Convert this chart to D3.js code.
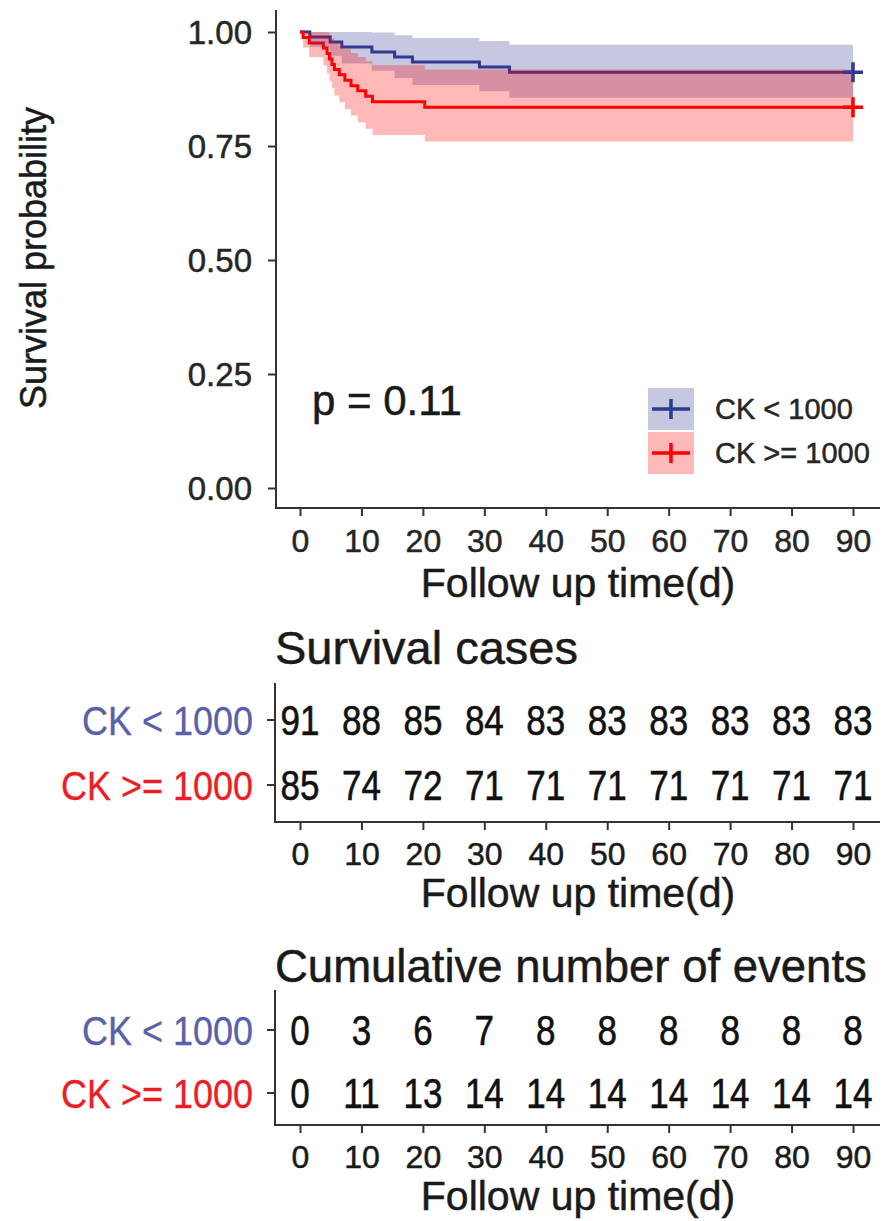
<!DOCTYPE html>
<html>
<head>
<meta charset="utf-8">
<script src="https://cdn.jsdelivr.net/npm/d3@7"></script>
<style>
  body { margin: 0; background: #fff; }
  text { font-family: "Liberation Sans", Arial, sans-serif; }
</style>
</head>
<body>
<div id="chart"></div>
<script>
var timeTicks = [0, 10, 20, 30, 40, 50, 60, 70, 80, 90],
	survTicks = [0, 0.25, 0.5, 0.75, 1],
	groups = ["CK < 1000", "CK >= 1000"],
	groupColors = ["#2E3A8F", "#FF0000"],
	labelColors = ["#5A61AA", "#EE1C25"];

// Kaplan-Meier steps
var lowTimes = [0, 1.6, 4.9, 6.8, 11.7, 15.4, 18.3, 29.2, 34.1, 90],
	lowSurv = [1, 0.989, 0.978, 0.967, 0.956, 0.945, 0.934, 0.923, 0.912, 0.912],
	lowUpper = [1, 1, 1, 1, 0.999, 0.993, 0.987, 0.980, 0.972, 0.972],
	lowLower = [1, 0.967, 0.948, 0.931, 0.915, 0.899, 0.884, 0.870, 0.856, 0.856];

var highTimes = [0, 0.5, 1.5, 3.8, 4.4, 4.8, 5.2, 5.6, 6.4, 7.3, 8.3, 9.4, 10.7, 11.8, 20.3, 90],
	highSurv = [1, 0.988, 0.976, 0.965, 0.953, 0.941, 0.929, 0.918, 0.906, 0.894, 0.882, 0.871, 0.859, 0.847, 0.835, 0.835],
	highUpper = [1, 1, 1, 1, 0.999, 0.993, 0.986, 0.978, 0.970, 0.962, 0.954, 0.945, 0.936, 0.927, 0.918, 0.918],
	highLower = [1, 0.966, 0.945, 0.926, 0.909, 0.892, 0.877, 0.861, 0.846, 0.831, 0.817, 0.802, 0.788, 0.774, 0.760, 0.760];

var atRiskLow = [91, 88, 85, 84, 83, 83, 83, 83, 83, 83],
	atRiskHigh = [85, 74, 72, 71, 71, 71, 71, 71, 71, 71],
	eventsLow = [0, 3, 6, 7, 8, 8, 8, 8, 8, 8],
	eventsHigh = [0, 11, 13, 14, 14, 14, 14, 14, 14, 14];

var pText = "p = 0.11";

(function() {
	"use strict";

	var width = 882,
		height = 1221,
		axisColor = "#333333",
		textColor = "#1a1a1a",
		x = d3.scaleLinear().domain([0, 90]).range([300, 853]),
		y = d3.scaleLinear().domain([0, 1]).range([488, 32]),
		panelLeft = 275,
		panelRight = 880;

	var svg = d3.select("#chart")
		.append("svg")
		.attr("width", width)
		.attr("height", height);

	// a touch of stroke so the text reads as heavy as the scanned figure
	function heavy(sel, color) {
		return sel.attr("fill", color)
			.attr("stroke", color)
			.attr("stroke-width", 0.5);
	}

	function series(times, surv, upper, lower) {
		return times.map(function(t, i) {
			return { t: t, s: surv[i], hi: upper[i], lo: lower[i] };
		});
	}

	var curves = [
		series(lowTimes, lowSurv, lowUpper, lowLower),
		series(highTimes, highSurv, highUpper, highLower)
	];

	var line = d3.line()
		.curve(d3.curveStepAfter)
		.x(function(d) { return x(d.t); })
		.y(function(d) { return y(d.s); });

	var band = d3.area()
		.curve(d3.curveStepAfter)
		.x(function(d) { return x(d.t); })
		.y0(function(d) { return y(d.lo); })
		.y1(function(d) { return y(d.hi); });

	// survival curves, then ribbons on top (as ggsurvplot does)
	var plot = svg.append("g");

	curves.forEach(function(c, i) {
		plot.append("path")
			.attr("d", line(c))
			.attr("fill", "none")
			.attr("stroke", groupColors[i])
			.attr("stroke-width", 3);
	});

	curves.forEach(function(c, i) {
		plot.append("path")
			.attr("d", band(c))
			.attr("fill", groupColors[i])
			.attr("fill-opacity", 0.28)
			.attr("stroke", "none");
	});

	// censor marks at the end of follow up
	curves.forEach(function(c, i) {
		var last = c[c.length - 1];
		plot.append("path")
			.attr("transform", "translate(" + x(last.t) + "," + y(last.s) + ")")
			.attr("d", "M-10,0H10M0,-10V10")
			.attr("stroke", groupColors[i])
			.attr("stroke-width", 3.5);
	});

	// axes of the survival plot
	var yAxis = svg.append("g")
		.attr("transform", "translate(" + (panelLeft + 1) + ",0)")
		.call(d3.axisLeft(y).tickValues(survTicks).tickFormat(d3.format(".2f")).tickSizeOuter(0).tickSize(8).tickPadding(16));

	var xAxis = svg.append("g")
		.attr("transform", "translate(0,508)")
		.call(d3.axisBottom(x).tickValues(timeTicks).tickSizeOuter(0).tickSize(8).tickPadding(13));

	[yAxis, xAxis].forEach(function(a) {
		a.select(".domain").remove();
		a.selectAll(".tick line").attr("stroke", axisColor).attr("stroke-width", 2);
		heavy(a.selectAll(".tick text"), "#262626")
			.style("font-size", "33px");
	});
	yAxis.selectAll(".tick text").attr("dy", "0.36em");
	xAxis.selectAll(".tick text")
		.attr("dy", "0.71em")
		.style("font-size", "32px");

	svg.append("path")
		.attr("d", "M" + (panelLeft + 1) + ",10V508H" + panelRight)
		.attr("fill", "none")
		.attr("stroke", axisColor)
		.attr("stroke-width", 2);

	heavy(svg.append("text"), textColor)
		.attr("transform", "translate(46,258) rotate(-90)")
		.attr("text-anchor", "middle")
		.style("font-size", "36px")
		.text("Survival probability");

	heavy(svg.append("text"), textColor)
		.attr("x", 578)
		.attr("y", 597)
		.attr("text-anchor", "middle")
		.style("font-size", "41px")
		.text("Follow up time(d)");

	heavy(svg.append("text"), textColor)
		.attr("x", 312)
		.attr("y", 415)
		.style("font-size", "42px")
		.text(pText);

	// legend
	var legend = svg.append("g");
	groups.forEach(function(g, i) {
		var ky = 388 + i * 44;
		legend.append("rect")
			.attr("x", 648)
			.attr("y", ky)
			.attr("width", 46)
			.attr("height", 42)
			.attr("fill", groupColors[i])
			.attr("fill-opacity", 0.28);
		legend.append("path")
			.attr("d", "M652," + (ky + 21) + "H690M671," + (ky + 11) + "V" + (ky + 31))
			.attr("stroke", groupColors[i])
			.attr("stroke-width", 3.5);
		heavy(legend.append("text"), "#262626")
			.attr("x", 715)
			.attr("y", ky + 21)
			.attr("dy", "0.36em")
			.style("font-size", "29px")
			.text(g);
	});

	// risk tables
	function table(opt, rows) {
		var g = svg.append("g");

		heavy(g.append("text"), textColor)
			.attr("x", panelLeft)
			.attr("y", opt.titleY)
			.style("font-size", opt.titleSize)
			.text(opt.title);

		g.append("path")
			.attr("d", "M" + panelLeft + "," + opt.axisTop + "V" + opt.axisY + "H" + panelRight)
			.attr("fill", "none")
			.attr("stroke", axisColor)
			.attr("stroke-width", 2);

		rows.forEach(function(vals, r) {
			var ry = opt.rowY[r];
			g.append("line")
				.attr("x1", panelLeft - 8)
				.attr("x2", panelLeft)
				.attr("y1", ry)
				.attr("y2", ry)
				.attr("stroke", axisColor)
				.attr("stroke-width", 2);

			heavy(g.append("text"), labelColors[r])
				.attr("transform", "translate(" + (panelLeft - 22) + "," + ry + ") scale(1,1.15)")
				.attr("text-anchor", "end")
				.attr("dy", "0.36em")
				.attr("stroke-width", 0.3)
				.style("font-size", "36px")
				.text(groups[r]);

			heavy(g.selectAll("text.num" + r)
				.data(vals)
				.enter()
				.append("text")
				.attr("class", "num" + r), "#111")
				.attr("transform", function(d, i) {
					return "translate(" + x(timeTicks[i]) + "," + ry + ") scale(1,1.2)";
				})
				.attr("text-anchor", "middle")
				.attr("dy", "0.36em")
				.style("font-size", "35px")
				.text(function(d) { return d; });
		});

		var ax = g.append("g")
			.attr("transform", "translate(0," + opt.axisY + ")")
			.call(d3.axisBottom(x).tickValues(timeTicks).tickSizeOuter(0).tickSize(8).tickPadding(12));
		ax.select(".domain").remove();
		ax.selectAll(".tick line").attr("stroke", axisColor).attr("stroke-width", 2);
		heavy(ax.selectAll(".tick text"), "#1a1a1a")
			.attr("dy", "0.71em")
			.style("font-size", "32px");

		heavy(g.append("text"), textColor)
			.attr("x", 578)
			.attr("y", opt.axisY + 85)
			.attr("text-anchor", "middle")
			.style("font-size", "41px")
			.text("Follow up time(d)");
	}

	table({ title: "Survival cases", titleSize: "47px", titleY: 664, axisTop: 683, rowY: [720, 785], axisY: 822 },
		[atRiskLow, atRiskHigh]);
	table({ title: "Cumulative number of events", titleSize: "45.5px", titleY: 982, axisTop: 990, rowY: [1030, 1093], axisY: 1125 },
		[eventsLow, eventsHigh]);
})();
</script>
</body>
</html>
